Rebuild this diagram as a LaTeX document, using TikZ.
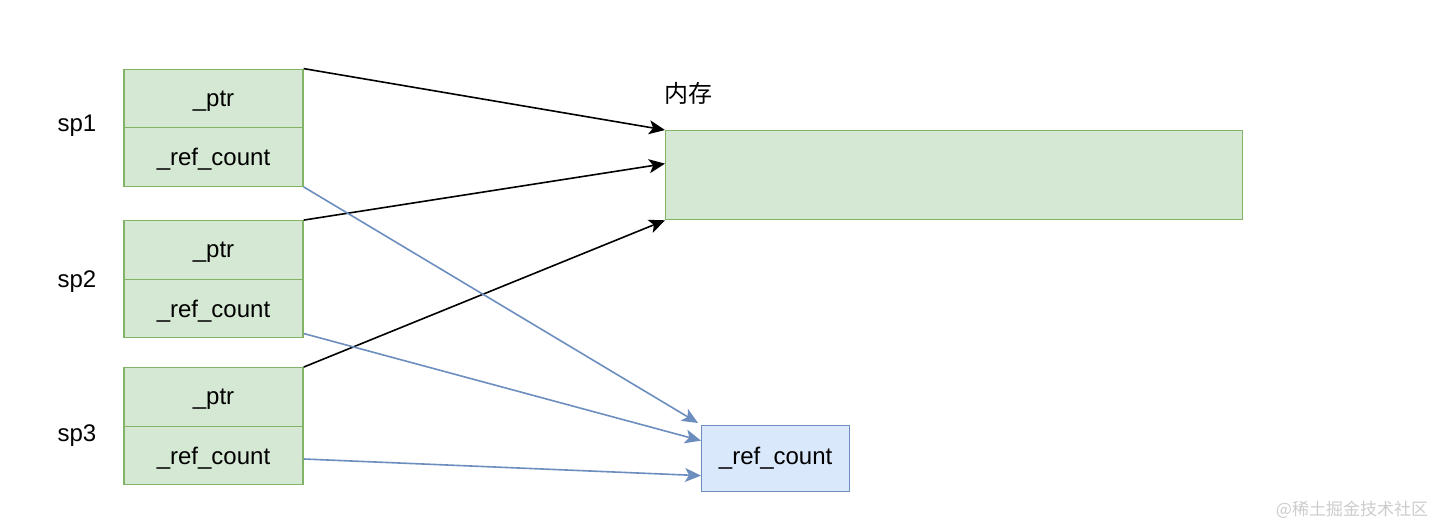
\documentclass[tikz,border=0pt]{standalone}
\usepackage{fontspec}
\setmainfont{Liberation Sans}
\newfontfamily\cjk{Noto Sans CJK SC}
\usetikzlibrary{arrows.meta}
\definecolor{gfill}{HTML}{D5E8D4}
\definecolor{gline}{HTML}{82B366}
\definecolor{bfill}{HTML}{DAE8FC}
\definecolor{bline}{HTML}{6C8EBF}

\begin{document}
\begin{tikzpicture}[x=1pt, y=-1pt, every node/.style={font=\fontsize{24}{28}\selectfont},
	cell/.style={draw=gline, fill=gfill, line width=1.3pt, minimum width=179pt, minimum height=58.5pt, inner sep=0pt, text depth=0pt, yshift=-1pt},
	blk/.style={-{Stealth[length=16pt, width=14pt, inset=4pt]}, line width=1.6pt},
	blu/.style={-{Stealth[length=16pt, width=14pt, inset=4pt]}, line width=1.6pt, bline}]
	\useasboundingbox (0,0) rectangle (1438,527);
	% three shared_ptr objects
	\node[cell] (sp1ptr) at (213.5,97.5) {\_ptr};
	\node[cell] (sp1rc) at (213.5,156) {\_ref\_count};
	\node[cell] (sp2ptr) at (213.5,249) {\_ptr};
	\node[cell] (sp2rc) at (213.5,307.5) {\_ref\_count};
	\node[cell] (sp3ptr) at (213.5,396) {\_ptr};
	\node[cell] (sp3rc) at (213.5,454.5) {\_ref\_count};
	\node (sp1) at (77,126) {sp1};
	\node (sp2) at (77,282) {sp2};
	\node (sp3) at (77,436) {sp3};
	% memory block and shared count
	\node[draw=gline, fill=gfill, line width=1.3pt, minimum width=577pt, minimum height=89pt, anchor=north west] (mem) at (665,130) {};
	\node (memlbl) at (688,93) {\cjk 内存};
	\node[draw=bline, fill=bfill, line width=1.3pt, minimum width=148pt, minimum height=66pt, anchor=north west] (cnt) at (701,425) {\_ref\_count};
	\draw[blk] (sp1ptr.north east) -- (mem.north west);
	\draw[blk] (sp2ptr.north east) -- ([yshift=11.5pt]mem.west);
	\draw[blk] (sp3ptr.north east) -- (mem.south west);
	\draw[blu] (sp1rc.south east) -- ([xshift=-3pt,yshift=2pt]cnt.north west);
	\draw[blu] ([yshift=-25pt]sp2rc.east) -- ([yshift=18pt]cnt.west);
	\draw[blu] ([yshift=-3.5pt]sp3rc.east) -- ([yshift=-17pt]cnt.west);
	\node[text=black!20, font=\cjk\fontsize{17}{20}\selectfont] (wm) at (1352,510) {@稀土掘金技术社区};
\end{tikzpicture}
\end{document}
